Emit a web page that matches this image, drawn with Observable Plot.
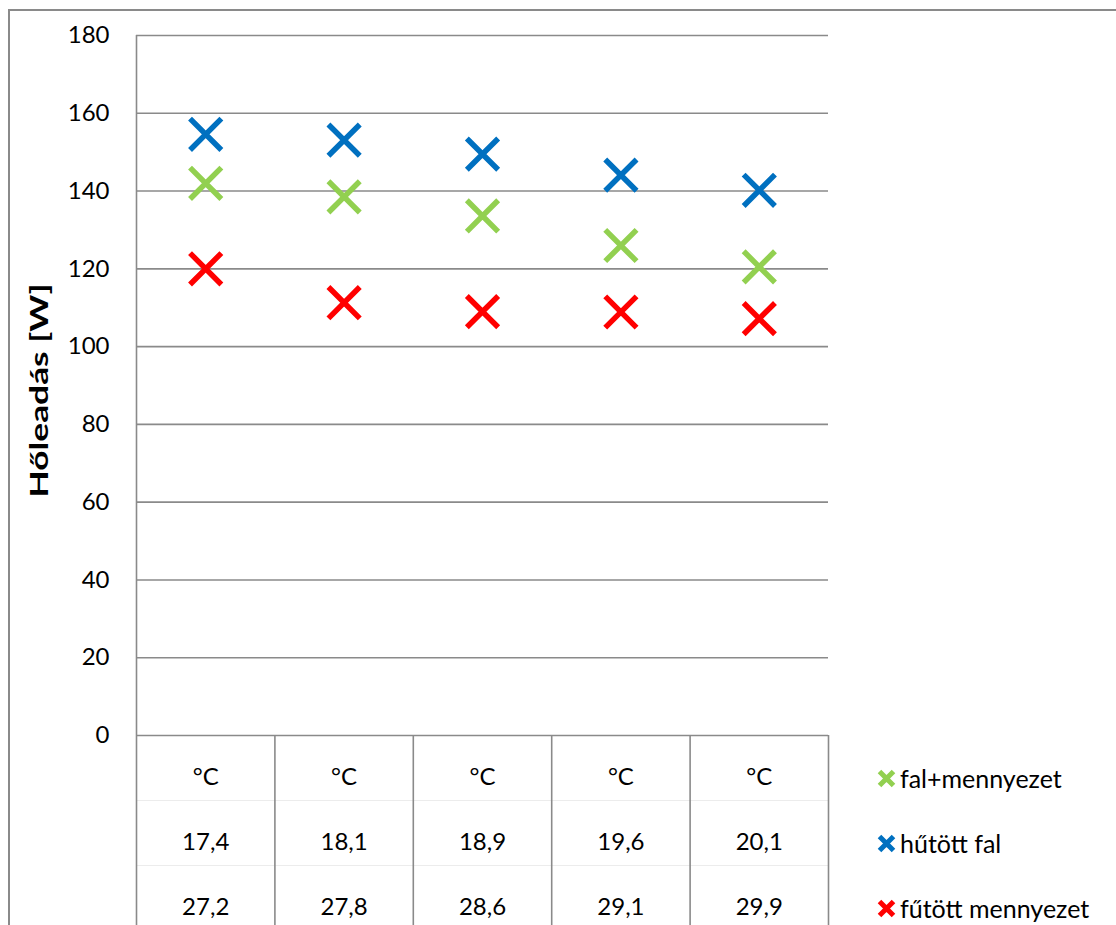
<!DOCTYPE html>
<html>
<head>
<meta charset="utf-8">
<script src="https://cdn.jsdelivr.net/npm/d3@7"></script>
<script src="https://cdn.jsdelivr.net/npm/@observablehq/plot@0.6"></script>
<style>
  html, body { margin: 0; padding: 0; background: #fff; }
  #wrap { position: relative; width: 1116px; height: 925px; overflow: hidden; background: #fff;
          font-family: Lato, "Noto Sans", sans-serif; color: #000; }
  #frame { position: absolute; left: 8px; top: 9px; width: 1200px; height: 1000px;
           border: 2px solid #8a8a8a; box-sizing: border-box; }
  .layer { position: absolute; left: 0; }
  .legend-item { position: absolute; left: 877px; display: flex; align-items: center; font-size: 25px; height: 30px; }
  .legend-item svg { margin-right: 4px; }
</style>
</head>
<body>
<div id="wrap">
  <div id="frame"></div>
  <div id="chart" class="layer" style="top:0"></div>
  <div id="table" class="layer" style="top:735px"></div>
  <div id="legend"></div>
</div>
<script>
// Category columns (shown as a three-row table under the plot)
const unitRow = ["°C", "°C", "°C", "°C", "°C"];
const tempRowA = ["17,4", "18,1", "18,9", "19,6", "20,1"];
const tempRowB = ["27,2", "27,8", "28,6", "29,1", "29,9"];

// Heat output per configuration [W]
const seriesNames = ["fal+mennyezet", "hűtött fal", "fűtött mennyezet"];
const seriesColors = ["#92D050", "#0070C0", "#FF0000"];
const falMennyezet = [142, 138.5, 133.6, 126, 120.5];
const hutottFal = [154.6, 153.1, 149.5, 144.1, 140.2];
const futottMennyezet = [120, 111.3, 109, 108.9, 107.2];

const yTicks = [0, 20, 40, 60, 80, 100, 120, 140, 160, 180];
const yLabel = "Hőleadás [W]";

const seriesValues = [falMennyezet, hutottFal, futottMennyezet];
const points = [];
seriesValues.forEach((vals, s) => vals.forEach((v, i) => points.push({col: i + 0.5, value: v, series: seriesNames[s]})));

const gridColor = "#8a8a8a";
const font = "Lato, 'Noto Sans', sans-serif";

const chart = Plot.plot({
  width: 1116,
  height: 736,
  marginLeft: 136,
  marginRight: 288,
  marginTop: 35,
  marginBottom: 1,
  style: {fontFamily: font, fontSize: "24px", color: "#000", background: "transparent", overflow: "visible"},
  x: {domain: [0, 5], axis: null},
  y: {domain: [0, 180], axis: null},
  color: {domain: seriesNames, range: seriesColors},
  marks: [
    Plot.ruleY(yTicks, {stroke: gridColor, strokeWidth: 1.6, strokeOpacity: 1}),
    Plot.ruleX([0], {y1: 0, y2: 180, stroke: gridColor, strokeWidth: 1.6}),
    Plot.axisY({ticks: yTicks, tickSize: 0, tickPadding: 27, fontSize: 24, label: null}),
    Plot.text([yLabel], {frameAnchor: "left", textAnchor: "middle", rotate: -90, dx: -96, dy: 5,
                         fontSize: 24, fontWeight: "bold", text: d => d, className: "ytitle"}),
    Plot.dot(points, {x: "col", y: "value", stroke: "series", symbol: "times", r: 14.3, strokeWidth: 5.5, strokeLinecap: "butt"})
  ]
});
// The axis title is drawn wide along its baseline
chart.querySelectorAll(".ytitle text").forEach(t => {
  t.setAttribute("textLength", 214);
  t.setAttribute("lengthAdjust", "spacingAndGlyphs");
});
document.getElementById("chart").appendChild(chart);

// Table under the plot: one column per category
const rows = [unitRow, tempRowA, tempRowB];
const cells = [];
rows.forEach((r, ri) => r.forEach((t, ci) => cells.push({col: ci + 0.5, row: ri + 0.5, text: t})));

const table = Plot.plot({
  width: 1116,
  height: 190,
  marginLeft: 136,
  marginRight: 288,
  marginTop: 0,
  marginBottom: 0,
  style: {fontFamily: font, fontSize: "24px", color: "#000", background: "transparent", overflow: "visible"},
  x: {domain: [0, 5], axis: null},
  y: {domain: [0, 3], range: [0, 195], axis: null},
  marks: [
    Plot.ruleY([1, 2], {x1: 0, x2: 5, stroke: "#ececec", strokeWidth: 1}),
    Plot.ruleX([0, 1, 2, 3, 4, 5], {y1: 0, y2: 3, stroke: gridColor, strokeWidth: 1.6}),
    Plot.text(cells, {x: "col", y: "row", text: "text", fontSize: 24, dy: 9, fill: "#000"})
  ]
});
document.getElementById("table").appendChild(table);

// Legend, one row per series, aligned with the table rows
const legend = document.getElementById("legend");
const rowCenters = [778, 843, 908];
seriesNames.forEach((name, i) => {
  const item = document.createElement("div");
  item.className = "legend-item";
  item.style.top = (rowCenters[i] - 15) + "px";
  item.innerHTML = `<svg width="19" height="19" viewBox="0 0 19 19"><path d="M2.5,2.5L16.5,16.5M2.5,16.5L16.5,2.5" stroke="${seriesColors[i]}" stroke-width="5"/></svg><span>${name}</span>`;
  legend.appendChild(item);
});
</script>
</body>
</html>
